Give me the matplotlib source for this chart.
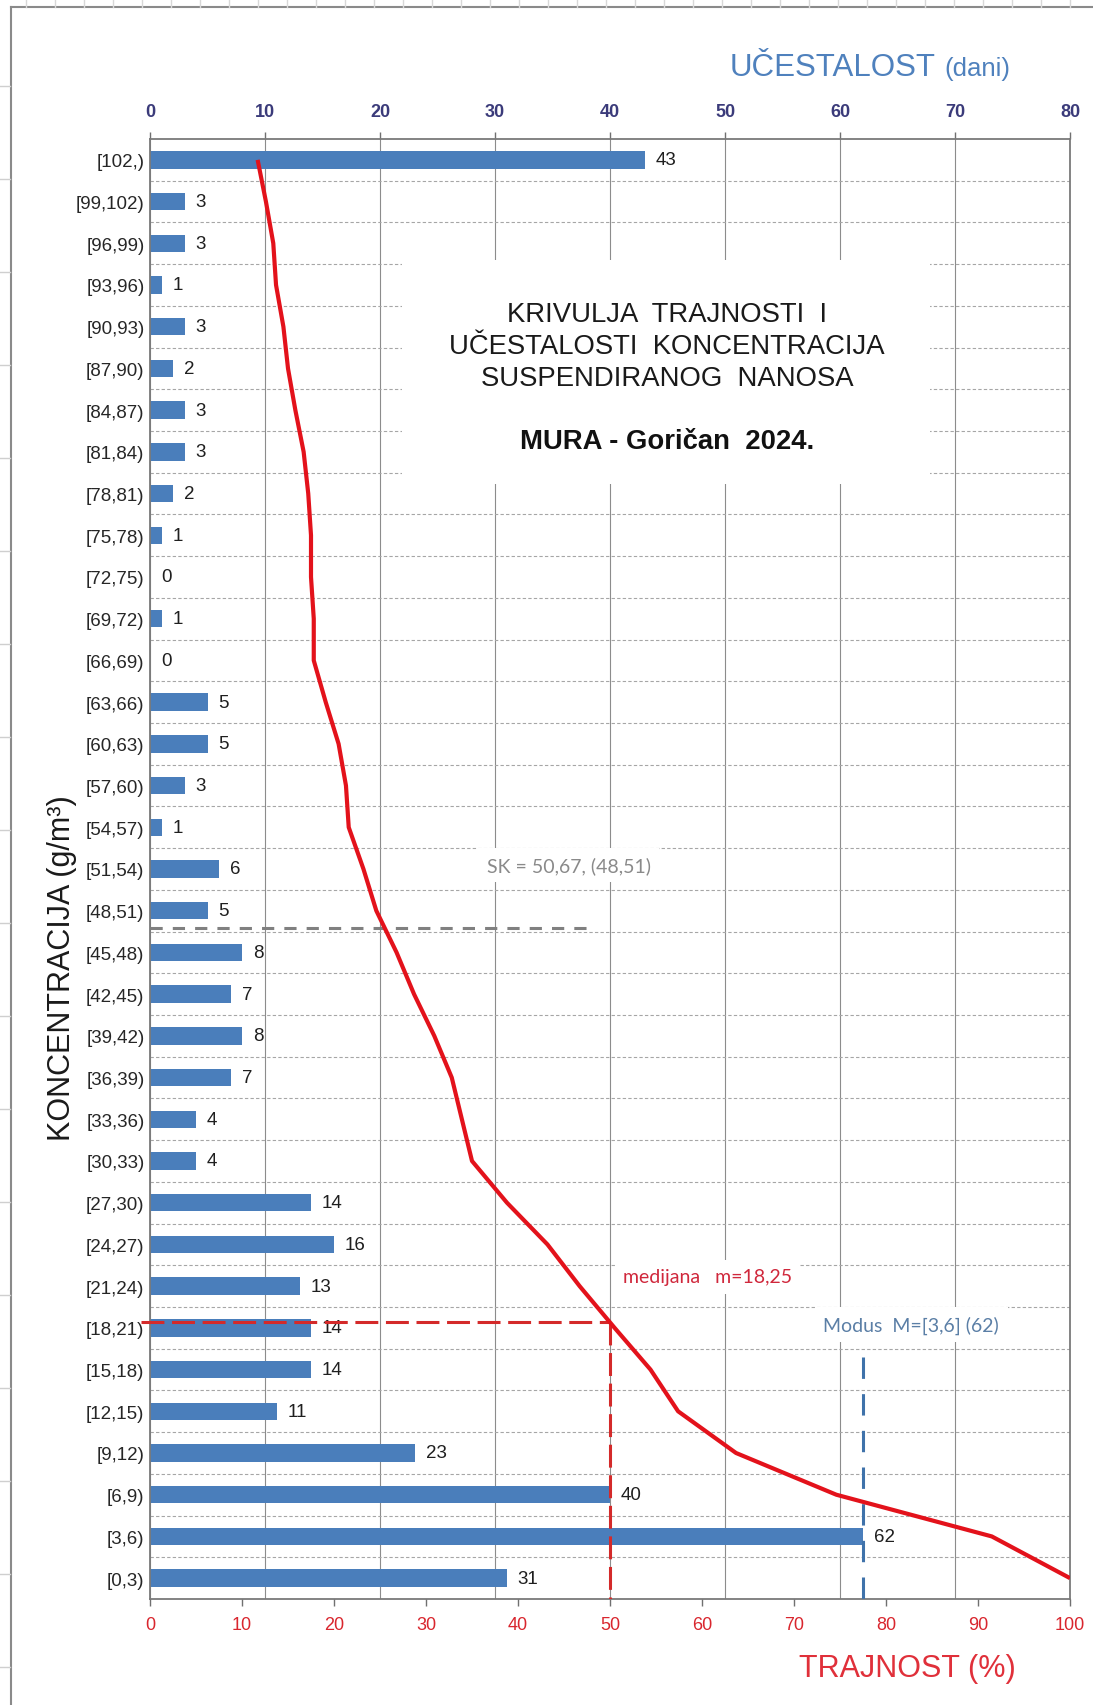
#!/usr/bin/env python3
# -*- coding: utf-8 -*-
"""
Duration / frequency curve of suspended sediment concentration, MURA - Goričan 2024.
"""

import numpy as np
import matplotlib
matplotlib.use('Agg')
import matplotlib.pyplot as plt
from matplotlib.patches import Rectangle
from matplotlib.lines import Line2D

plt.rcParams['font.family'] = ['Liberation Sans', 'DejaVu Sans']

# concentration classes, top to bottom (g/m3)
classes = ['[102,)', '[99,102)', '[96,99)', '[93,96)', '[90,93)', '[87,90)',
           '[84,87)', '[81,84)', '[78,81)', '[75,78)', '[72,75)', '[69,72)',
           '[66,69)', '[63,66)', '[60,63)', '[57,60)', '[54,57)', '[51,54)',
           '[48,51)', '[45,48)', '[42,45)', '[39,42)', '[36,39)', '[33,36)',
           '[30,33)', '[27,30)', '[24,27)', '[21,24)', '[18,21)', '[15,18)',
           '[12,15)', '[9,12)', '[6,9)', '[3,6)', '[0,3)']

# frequency (days) per class
days = [43, 3, 3, 1, 3, 2, 3, 3, 2, 1, 0, 1, 0, 5, 5, 3, 1, 6, 5, 8,
        7, 8, 7, 4, 4, 14, 16, 13, 14, 14, 11, 23, 40, 62, 31]

# duration curve (%), one point per class, top to bottom
duration = [11.7, 12.6, 13.4, 13.7, 14.5, 15.0, 15.8, 16.7, 17.2, 17.5,
            17.5, 17.8, 17.8, 19.1, 20.5, 21.3, 21.6, 23.2, 24.6, 26.8,
            28.7, 30.9, 32.8, 33.9, 35.0, 38.8, 43.2, 46.7, 50.5, 54.4,
            57.4, 63.7, 74.6, 91.5, 100.0]

freq_ticks = list(range(0, 81, 10))
pct_ticks = list(range(0, 101, 10))

median_pct = 50.0
median_level = 6.15      # class position of m = 18,25
mode_days = 62
mode_top = 5.3
sk_level = 15.58         # class position of SK = 50,67
sk_end_pct = 47.6

BAR_BLUE = '#4a7ebb'
RED = '#e3121b'
NOTE_FONT = ['Lato', 'DejaVu Sans']


def main():
    fig = plt.figure(figsize=(10.93, 17.06), dpi=100)
    ax = fig.add_axes([150 / 1093, 1 - 1600 / 1706, 920 / 1093, 1460 / 1706])

    n = len(classes)
    ypos = np.arange(n)[::-1]   # top class at the top

    ax.set_xlim(0, 80)
    ax.set_ylim(-0.5, n - 0.5)
    ax.set_axisbelow(True)
    ax.grid(axis='x', color='#8c8c8c', linewidth=0.8)
    for b in np.arange(0.5, n - 1, 1.0):
        ax.axhline(b, color='#a6a6a6', linewidth=0.8, linestyle=(0, (3, 2)), zorder=0.6)

    # white box behind the title
    ax.add_patch(Rectangle((0.274, 0.764), 0.574, 0.153, transform=ax.transAxes,
                           facecolor='white', edgecolor='none', zorder=1))

    ax.barh(ypos, days, height=0.42, color=BAR_BLUE, zorder=2)
    for y, v in zip(ypos, days):
        ax.annotate(str(v), (v, y), xytext=(8, 0), textcoords='offset points',
                    va='center', ha='left', fontsize=13.5, color='#1f1f1f', zorder=3)

    # mode line
    ax.plot([mode_days, mode_days], [mode_top, -0.68], color='#3f72aa', linewidth=2.2,
            dashes=(7, 5), zorder=3, clip_on=False)

    ax.set_yticks(ypos)
    ax.set_yticklabels(classes)
    ax.tick_params(axis='y', length=0, pad=4, labelsize=13.5, labelcolor='#262626')
    for s in ax.spines.values():
        s.set_color('#7a7a7a')
        s.set_linewidth(1.3)

    # duration axis
    ax2 = ax.twiny()
    ax2.set_xlim(0, 100)
    ax2.xaxis.set_ticks_position('bottom')
    ax2.xaxis.set_label_position('bottom')
    ax2.set_xticks(pct_ticks)
    ax2.tick_params(axis='x', which='both', top=False, labeltop=False,
                    bottom=True, labelbottom=True, direction='out', length=5,
                    width=1, color='#707070', pad=7, labelsize=13, labelcolor='#d9262e')
    for s in ax2.spines.values():
        s.set_visible(False)

    # frequency axis on top (set after twiny, which moves it)
    ax.set_xticks(freq_ticks)
    ax.tick_params(axis='x', which='both', top=True, labeltop=True,
                   bottom=False, labelbottom=False, direction='out', length=5,
                   width=1, color='#707070', pad=9, labelsize=13, labelcolor='#3b3b7a')
    for lab in ax.get_xticklabels():
        lab.set_fontweight('bold')

    ax2.plot(duration, ypos, color=RED, linewidth=3, zorder=4, solid_capstyle='butt')

    # median
    ax2.plot([-1.0, median_pct], [median_level, median_level], color='#d42a2a',
             linewidth=2.2, dashes=(7.5, 2.5), zorder=3, clip_on=False)
    ax2.plot([median_pct, median_pct], [median_level, -0.5], color='#d42a2a',
             linewidth=2.2, dashes=(7.5, 2.5), zorder=3)

    # mean
    ax2.plot([0, sk_end_pct], [sk_level, sk_level], color='#808080', linewidth=2.2,
             dashes=(4, 3.3), zorder=3)

    box = dict(facecolor='white', edgecolor='none', pad=6)
    ax2.text(45.5, 17.1, 'SK = 50,67, (48,51)', ha='center', va='center',
             fontsize=14, color='#8a8a8a', family=NOTE_FONT, bbox=box, zorder=5)
    ax2.text(51.4, 7.22, 'medijana   m=18,25', ha='left', va='center',
             fontsize=14, color='#d0283c', family=NOTE_FONT, bbox=box, zorder=5)
    ax2.text(73.2, 6.08, 'Modus  M=[3,6] (62)', ha='left', va='center',
             fontsize=14, color='#5b7fa6', family=NOTE_FONT, bbox=box, zorder=5)

    ax2.text(56.2, 29.54, 'KRIVULJA  TRAJNOSTI  I\nUČESTALOSTI  KONCENTRACIJA\nSUSPENDIRANOG  NANOSA',
             ha='center', va='center', fontsize=19.8, color='#1a1a1a', linespacing=1.3, zorder=5)
    ax2.text(56.2, 27.26, 'MURA - Goričan  2024.', ha='center', va='center',
             fontsize=19.8, fontweight='bold', color='#111111', zorder=5)

    # axis titles
    fig.text(730 / 1093, 1 - 76 / 1706, 'UČESTALOST', ha='left', va='baseline',
             fontsize=22.5, color='#4f81bd')
    fig.text(944 / 1093, 1 - 76 / 1706, '(dani)', ha='left', va='baseline',
             fontsize=18.5, color='#4f81bd')
    fig.text(907 / 1093, 1 - 1669 / 1706, 'TRAJNOST (%)', ha='center', va='center',
             fontsize=22, color='#e0303a')
    fig.text(62 / 1093, 1 - 968 / 1706, 'KONCENTRACIJA (g/m³)', ha='center', va='center',
             rotation=90, fontsize=22, color='#1a1a1a')

    # sheet frame
    W, H = 1093, 1706
    fig.add_artist(Line2D([11 / W, 11 / W], [0, 1 - 8 / H], color='#8a8a8a', linewidth=1.5))
    fig.add_artist(Line2D([11 / W, 1], [1 - 8 / H, 1 - 8 / H], color='#8a8a8a', linewidth=1.5))
    for yy in np.arange(87, H, 93):
        fig.add_artist(Line2D([0, 10 / W], [1 - yy / H, 1 - yy / H], color='#cfcfcf', linewidth=1))
    for xx in np.arange(26, W, 29):
        fig.add_artist(Line2D([xx / W, xx / W], [1 - 8 / H, 1], color='#d8d8d8', linewidth=1))

    fig.savefig('out.png', dpi=100)
    plt.close(fig)


if __name__ == '__main__':
    main()
